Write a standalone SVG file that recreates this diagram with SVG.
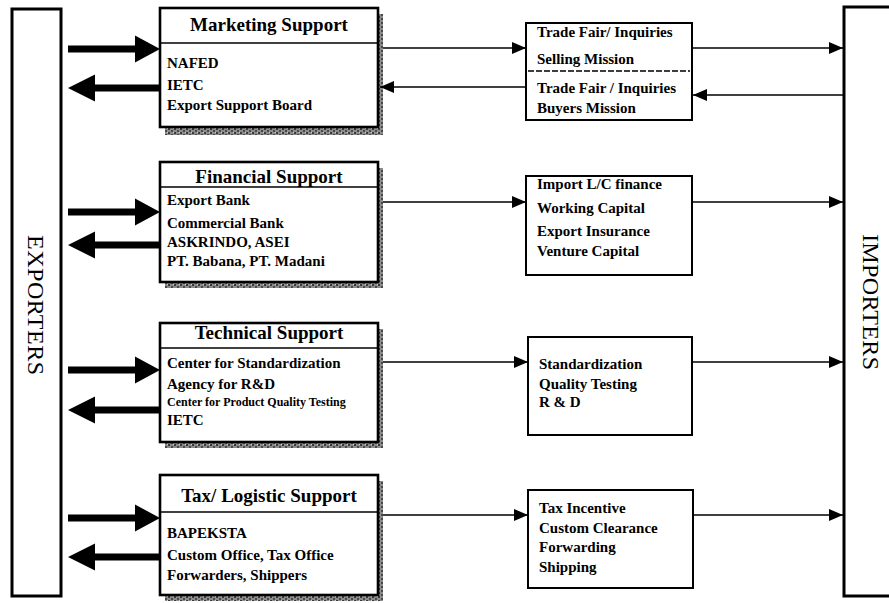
<svg xmlns="http://www.w3.org/2000/svg" width="889" height="603" viewBox="0 0 889 603">
  <style>
    .frame { fill: #fff; stroke: #000; stroke-width: 3; }
    .agency { fill: #fff; stroke: #000; stroke-width: 2.6; }
    .shadow { fill: url(#grain); }
    .sep { stroke: #000; stroke-width: 1.6; }
    .svc { fill: #fff; stroke: #000; stroke-width: 2; }
    .head { font-family: "Liberation Serif", "Times New Roman", serif; font-weight: bold; font-size: 19px; text-anchor: middle; fill: #000; }
    .body { font-family: "Liberation Serif", "Times New Roman", serif; font-weight: bold; font-size: 15px; fill: #000; }
    .small { font-size: 12px; }
    .side { font-family: "Liberation Serif", "Times New Roman", serif; font-size: 24px; text-anchor: middle; fill: #000; }
    .link { stroke: #000; stroke-width: 1.7; fill: none; marker-end: url(#tip); }
    .fat { fill: #000; }
  </style>
  <defs>
    <pattern id="grain" width="6" height="4" patternUnits="userSpaceOnUse">
      <rect width="6" height="4" fill="#8c8c8c"/>
      <rect x="0" y="0" width="2" height="2" fill="#3a3a3a"/>
      <rect x="3" y="2" width="2" height="2" fill="#4a4a4a"/>
      <rect x="5" y="0" width="1" height="1" fill="#d0d0d0"/>
    </pattern>
    <marker id="tip" viewBox="0 0 14 12" refX="14" refY="6" markerWidth="14" markerHeight="12" markerUnits="userSpaceOnUse" orient="auto">
      <path d="M0,0 L14,6 L0,12 Z" fill="#000"/>
    </marker>
    <!-- broad arrows between the exporters column and the agency boxes -->
    <path id="fatRight" d="M68,-3.5 H135 V-13.5 L160,0 L135,13.5 V3.5 H68 Z"/>
    <path id="fatLeft" d="M160,-3.5 H95 V-13.5 L68,0 L95,13.5 V3.5 H160 Z"/>
  </defs>

  <rect width="889" height="603" fill="#fff"/>

  <!-- side columns -->
  <g id="exporters">
    <rect class="frame" x="12" y="9" width="49" height="587"/>
    <text class="side" transform="translate(36,305) rotate(90)" dy="8" textLength="140" lengthAdjust="spacing">EXPORTERS</text>
  </g>
  <g id="importers">
    <rect class="frame" x="844" y="7" width="60" height="589"/>
    <text class="side" transform="translate(871,302) rotate(90)" dy="8" textLength="136" lengthAdjust="spacing">IMPORTERS</text>
  </g>

  <!-- agency boxes -->
  <g id="marketing">
    <rect class="shadow" x="165" y="14" width="218" height="121"/>
    <rect class="agency" x="160" y="8" width="218" height="119"/>
    <line class="sep" x1="160" y1="43" x2="378" y2="43"/>
    <text class="head" x="269" y="31">Marketing Support</text>
    <text class="body" x="167" y="68">NAFED</text>
    <text class="body" x="167" y="90">IETC</text>
    <text class="body" x="167" y="110">Export Support Board</text>
  </g>
  <g id="financial">
    <rect class="shadow" x="165" y="168" width="218" height="120"/>
    <rect class="agency" x="160" y="162" width="218" height="120"/>
    <line class="sep" x1="160" y1="187" x2="378" y2="187"/>
    <text class="head" x="269" y="183">Financial Support</text>
    <text class="body" x="167" y="205">Export Bank</text>
    <text class="body" x="167" y="228">Commercial Bank</text>
    <text class="body" x="167" y="247">ASKRINDO, ASEI</text>
    <text class="body" x="167" y="266">PT. Babana, PT. Madani</text>
  </g>
  <g id="technical">
    <rect class="shadow" x="165" y="329" width="218" height="119"/>
    <rect class="agency" x="160" y="323" width="218" height="119"/>
    <line class="sep" x1="160" y1="348" x2="378" y2="348"/>
    <text class="head" x="269" y="339">Technical Support</text>
    <text class="body" x="167" y="368">Center for Standardization</text>
    <text class="body" x="167" y="389">Agency for R&amp;D</text>
    <text class="body small" x="167" y="406">Center for Product Quality Testing</text>
    <text class="body" x="167" y="425">IETC</text>
  </g>
  <g id="taxLogistic">
    <rect class="shadow" x="165" y="481" width="218" height="120"/>
    <rect class="agency" x="160" y="475" width="218" height="120"/>
    <line class="sep" x1="160" y1="512" x2="378" y2="512"/>
    <text class="head" x="269" y="502">Tax/ Logistic Support</text>
    <text class="body" x="167" y="538">BAPEKSTA</text>
    <text class="body" x="167" y="560">Custom Office, Tax Office</text>
    <text class="body" x="167" y="580">Forwarders, Shippers</text>
  </g>

  <!-- service boxes -->
  <g id="missions">
    <rect class="svc" x="526" y="23" width="166" height="97"/>
    <line x1="528" y1="71" x2="690" y2="71" stroke="#000" stroke-width="1.3" stroke-dasharray="6,2"/>
    <text class="body" x="537" y="37">Trade Fair/ Inquiries</text>
    <text class="body" x="537" y="64">Selling Mission</text>
    <text class="body" x="537" y="93">Trade Fair / Inquiries</text>
    <text class="body" x="537" y="113">Buyers Mission</text>
  </g>
  <g id="finance">
    <rect class="svc" x="526" y="176" width="166" height="99"/>
    <text class="body" x="537" y="189">Import L/C finance</text>
    <text class="body" x="537" y="213">Working Capital</text>
    <text class="body" x="537" y="236">Export Insurance</text>
    <text class="body" x="537" y="256">Venture Capital</text>
  </g>
  <g id="quality">
    <rect class="svc" x="528" y="337" width="164" height="98"/>
    <text class="body" x="539" y="369">Standardization</text>
    <text class="body" x="539" y="389">Quality Testing</text>
    <text class="body" x="539" y="407">R &amp; D</text>
  </g>
  <g id="shipping">
    <rect class="svc" x="528" y="490" width="165" height="98"/>
    <text class="body" x="539" y="513">Tax Incentive</text>
    <text class="body" x="539" y="533">Custom Clearance</text>
    <text class="body" x="539" y="552">Forwarding</text>
    <text class="body" x="539" y="572">Shipping</text>
  </g>

  <!-- connectors -->
  <g id="connectors">
    <use href="#fatRight" class="fat" transform="translate(0,49)"/>
    <use href="#fatLeft" class="fat" transform="translate(0,88)"/>
    <use href="#fatRight" class="fat" transform="translate(0,212)"/>
    <use href="#fatLeft" class="fat" transform="translate(0,245)"/>
    <use href="#fatRight" class="fat" transform="translate(0,370)"/>
    <use href="#fatLeft" class="fat" transform="translate(0,410)"/>
    <use href="#fatRight" class="fat" transform="translate(0,518)"/>
    <use href="#fatLeft" class="fat" transform="translate(0,557)"/>

    <line class="link" x1="383" y1="48" x2="526" y2="48"/>
    <line class="link" x1="526" y1="87" x2="380" y2="87"/>
    <line class="link" x1="692" y1="48" x2="843" y2="48"/>
    <line class="link" x1="844" y1="95" x2="693" y2="95"/>

    <line class="link" x1="383" y1="202" x2="526" y2="202"/>
    <line class="link" x1="692" y1="202" x2="843" y2="202"/>

    <line class="link" x1="383" y1="362" x2="528" y2="362"/>
    <line class="link" x1="692" y1="362" x2="843" y2="362"/>

    <line class="link" x1="383" y1="515" x2="528" y2="515"/>
    <line class="link" x1="693" y1="515" x2="843" y2="515"/>
  </g>
</svg>
